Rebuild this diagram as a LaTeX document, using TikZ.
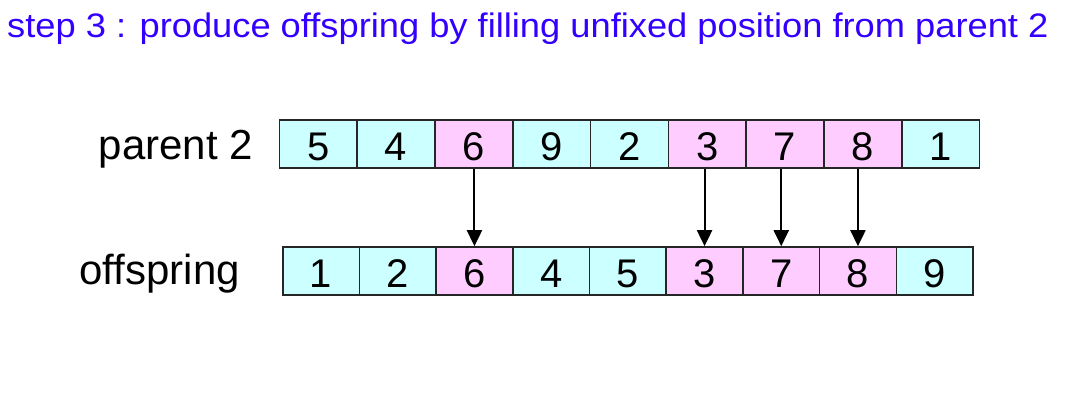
\documentclass[tikz,border=0pt]{standalone}
\usepackage{graphicx}
\usepackage{fontspec}
\setmainfont{Liberation Sans}
\usetikzlibrary{arrows.meta}
\definecolor{cellcyan}{RGB}{204,255,255}
\definecolor{cellpink}{RGB}{255,204,255}
\definecolor{titleblue}{RGB}{51,0,255}
\tikzset{cell/.style={draw=black!85,line width=1.6pt,minimum height=48pt,inner sep=0pt,text height=32pt,text depth=0pt,font=\fontsize{40}{40}\selectfont}}
\tikzset{cy/.style={cell,fill=cellcyan}}
\tikzset{pk/.style={cell,fill=cellpink}}
\tikzset{lbl/.style={anchor=east,inner sep=0pt,font=\fontsize{42}{42}\selectfont}}
\tikzset{arr/.style={line width=2pt,-{Triangle[width=15pt,length=16pt]}}}

\begin{document}
\begin{tikzpicture}[x=1pt,y=-1pt]
  \useasboundingbox (0,0) rectangle (1075,405);
  \node[anchor=base west,inner sep=0pt,text=titleblue,font=\fontsize{34}{34}\selectfont] (title) at (7,37)
    {\scalebox{1.067}[1]{step 3 : produce offspring by filling unfixed position from parent 2}};
  % parent 2
  \node[lbl] (lparent) at (253,149) {parent 2};
  \foreach \v/\s [count=\i] in {5/cy,4/cy,6/pk,9/cy,2/cy,3/pk,7/pk,8/pk,1/cy}
    \node[\s,minimum width=77.8pt] (t\i) at (279.3+77.8*\i-38.9,144) {\v};
  % offspring
  \node[lbl] (loff) at (240,274) {offspring};
  \foreach \v/\s [count=\i] in {1/cy,2/cy,6/pk,4/cy,5/cy,3/pk,7/pk,8/pk,9/cy}
    \node[\s,minimum width=76.7pt] (b\i) at (282.7+76.7*\i-38.35,271) {\v};
  % fixed positions
  \foreach \i in {3,6,7,8}
    \draw[arr] (b\i.north |- t\i.south) -- (b\i.north);
\end{tikzpicture}
\end{document}
